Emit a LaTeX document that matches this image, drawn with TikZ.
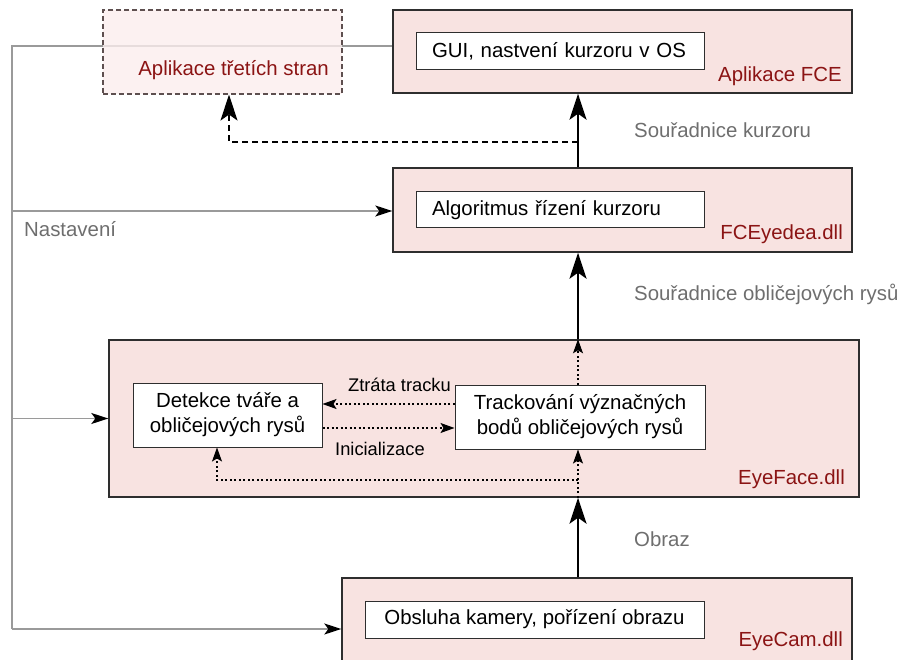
\documentclass[tikz,border=0pt]{standalone}
\usepackage{fontspec}
\setmainfont{Liberation Sans}
\usetikzlibrary{arrows.meta,calc}
\definecolor{boxfill}{HTML}{F8E3E1}
\definecolor{thirdfill}{HTML}{FBEDED}
\definecolor{darkred}{HTML}{8B1414}
\definecolor{labelgray}{HTML}{6E6E6E}
\definecolor{linegray}{HTML}{9A9A9A}
\definecolor{frame}{HTML}{2E2E2E}
\definecolor{thirdframe}{HTML}{5E4F4F}
\begin{document}
\begin{tikzpicture}[x=1pt,y=-1pt,
  mainfont/.style={font=\fontsize{20.4}{25}\selectfont},
  smallfont/.style={font=\fontsize{18.3}{22}\selectfont},
  module/.style={draw=frame, line width=1.4pt, fill=boxfill, inner sep=0pt},
  thirdbox/.style={draw=thirdframe, line width=1.1pt, dash pattern=on 5pt off 3pt, fill=thirdfill, fill opacity=0.8, inner sep=0pt},
  inbox/.style={draw=frame, line width=1pt, fill=white, inner sep=0pt, mainfont},
  modlabel/.style={text=darkred, mainfont, inner sep=0pt},
  flowlabel/.style={text=labelgray, mainfont, inner sep=0pt},
  smalllabel/.style={text=black, smallfont, inner sep=0pt},
  mainarrow/.style={line width=2pt, -{Stealth[length=26pt, width=17pt, inset=6pt]}},
  dasharrow/.style={line width=1.5pt, dash pattern=on 6pt off 4pt, -{Stealth[length=26pt, width=17pt, inset=6pt]}},
  dotarrow/.style={line width=1.2pt, dash pattern=on 2pt off 2.5pt, -{Stealth[length=14pt, width=10pt, inset=3pt]}},
  grayline/.style={draw=linegray, line width=1.3pt},
  grayarrow/.style={draw=linegray, line width=1.3pt, -{Stealth[length=17pt, width=11pt, inset=4pt, color=black]}}
]
\useasboundingbox (0,0) rectangle (905,660);

% gray settings bus (drawn first, behind boxes)
\coordinate (g0) at (12,46);
\coordinate (g1) at (12,211);
\coordinate (g2) at (12,418.5);
\coordinate (g3) at (12,629);

% modules
\node[module, minimum width=459, minimum height=83] (fce) at (622.5,51.5) {};
\node[module, minimum width=459, minimum height=84] (fcedll) at (622.5,210) {};
\node[module, minimum width=750, minimum height=157] (eyeface) at (484,418.5) {};
\node[module, minimum width=510, minimum height=102] (eyecam) at (597,629) {};

\draw[grayline] (g3) -- (g0) -- (g0 -| fce.west);
\draw[grayarrow] (g1) -- (g1 -| fcedll.west);
\draw[grayarrow] (g2) -- (g2 -| eyeface.west);
\draw[grayarrow] (g3) -- (g3 -| eyecam.west);

\node[thirdbox, minimum width=239, minimum height=84] (third) at (222.5,52) {};

% inner boxes
\node[inbox, minimum width=288, minimum height=37, text width=256, align=left] (gui) at (560,51.5) {GUI, nastvení kurzoru v OS};
\node[inbox, minimum width=288, minimum height=36, text width=256, align=left] (algo) at (560,210) {Algoritmus řízení kurzoru};
\node[inbox, minimum width=189, minimum height=64, align=center] (det) at (227.5,415) {Detekce tváře a\\obličejových rysů};
\node[inbox, minimum width=250, minimum height=64, align=center] (trk) at (580,417) {Trackování význačných\\bodů obličejových rysů};
\node[inbox, minimum width=339, minimum height=37, align=center] (cam) at (534.5,619.5) {Obsluha kamery, pořízení obrazu};

% module labels
\node[modlabel, anchor=base east] (fcelab) at (842,82) {Aplikace FCE};
\node[modlabel, anchor=base east] (thirdlab) at (329,76) {Aplikace třetích stran};
\node[modlabel, anchor=base east] (dlllab) at (843,240) {FCEyedea.dll};
\node[modlabel, anchor=base east] (eflab) at (845,484) {EyeFace.dll};
\node[modlabel, anchor=base east] (camlab) at (843,646) {EyeCam.dll};

% flow labels
\node[flowlabel, anchor=base west] (nast) at (24,237) {Nastavení};
\node[flowlabel, anchor=base west] (sk) at (634,138) {Souřadnice kurzoru};
\node[flowlabel, anchor=base west] (sor) at (634,301) {Souřadnice obličejových rysů};
\node[flowlabel, anchor=base west] (obr) at (634,546) {Obraz};

% main vertical flow
\coordinate (vx) at (578,0);
\draw[mainarrow] (eyecam.north -| vx) -- (eyeface.south -| vx);
\draw[mainarrow] (eyeface.north -| vx) -- (fcedll.south -| vx);
\draw[mainarrow] (fcedll.north -| vx) -- (fce.south -| vx);

% dashed branch to third-party apps
\coordinate (dj) at (578,142);
\coordinate (dk) at (229,142);
\draw[dasharrow] (dj) -- (dk) -- (dk |- third.south);

% dotted flows inside EyeFace
\draw[dotarrow] (trk.north -| vx) -- (eyeface.north -| vx);
\draw[dotarrow] (eyeface.south -| vx) -- (trk.south -| vx);
\coordinate (ej) at (578,480);
\coordinate (ek) at (217,480);
\draw[dotarrow] (ej) -- (ek) -- (ek |- det.south);
\coordinate (zt) at (0,404);
\coordinate (in) at (0,428);
\draw[dotarrow] (trk.west |- zt) -- (det.east |- zt);
\draw[dotarrow] (det.east |- in) -- (trk.west |- in);
\node[smalllabel, anchor=base east] (ztl) at (451,391) {Ztráta tracku};
\node[smalllabel, anchor=base west] (inl) at (335,455) {Inicializace};
\end{tikzpicture}
\end{document}
